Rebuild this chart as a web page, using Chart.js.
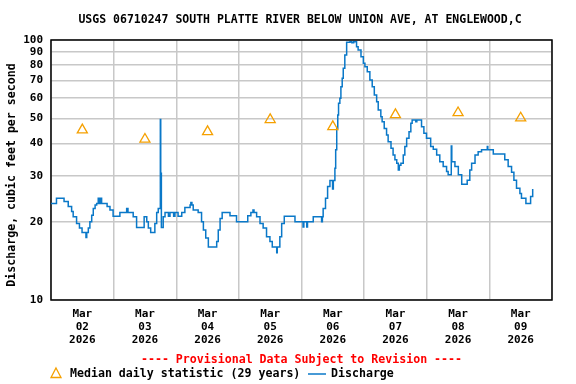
<!DOCTYPE html>
<html>
<head>
<meta charset="utf-8">
<script src="https://cdn.jsdelivr.net/npm/chart.js@4/dist/chart.umd.min.js"></script>
<style>
    html, body { margin: 0; padding: 0; background: #fff; }
    #wrap { width: 576px; height: 384px; position: relative; }
</style>
</head>
<body>
<div id="wrap"><canvas id="flowChart" width="576" height="384"></canvas></div>
<script>
// values (hours since Mar 02 00:00)
const dayLabels = ['02', '03', '04', '05', '06', '07', '08', '09'];
const yTicks = [10, 20, 30, 40, 50, 60, 70, 80, 90, 100];

const hours = [
    0, 2.1, 5.0, 6.6, 7.9, 8.5, 9.8, 10.9, 11.9, 13.4, 13.7, 14.3, 14.9, 15.6, 16.2, 16.9, 17.5,
    18.1, 18.6, 19.0, 19.4, 21.5, 22.6, 23.8, 26.4, 29.0, 29.5, 31.5, 32.8, 35.7, 36.7, 37.3,
    38.2, 39.8, 40.5, 41.1, 41.9, 42.05, 42.15, 42.3, 43.0, 43.7, 45.0, 45.6, 47.0, 47.5,
    48.7, 50.1, 51.3, 53.3, 53.6, 54.0, 54.5, 56.4, 57.7, 58.4, 59.3, 60.3, 63.5, 64.1, 64.8,
    65.6, 68.6, 71.1, 75.4, 76.6, 77.4, 77.8, 78.8, 80.1, 81.3, 82.6, 83.9, 84.8, 86.5, 86.7,
    87.7, 88.4, 89.4, 93.5, 96.6, 96.9, 98.0, 98.3, 100.5, 103.7, 104.0, 104.3, 105.2, 106.0,
    106.9, 107.9, 108.2, 108.8, 109.1, 109.5, 109.9, 110.2, 110.7, 111.1, 111.6, 112.0, 112.6,
    113.3, 114.6, 115.3, 116.0, 117.1, 117.7, 118.8, 119.7, 120.3, 121.2, 122.2, 123.1, 123.9,
    124.8, 125.4, 126.4, 126.9, 127.7, 128.6, 129.2, 130.3, 131.1, 131.8, 132.5, 133.1, 133.5,
    134.1, 135.0, 135.6, 136.3, 137.2, 137.9, 138.4, 139.8, 140.2, 142.0, 142.9, 143.9, 145.5,
    146.5, 147.8, 149.0, 150.3, 151.6, 152.2, 153.4, 153.6, 154.8, 156.1, 157.4, 159.5, 160.5,
    161.2, 162.5, 163.7, 165.0, 167.2, 167.4, 169.5, 173.9, 175.2, 176.5, 177.4, 178.4, 179.7,
    180.3, 182.0, 183.8, 184.6
];
const discharge = [
    23.5, 24.6, 23.9, 22.9, 21.9, 20.9, 19.7, 18.9, 18.2, 17.4, 18.2, 18.9, 20.0, 21.2, 22.5, 23.2, 23.5,
    24.6, 23.5, 24.6, 23.5, 22.9, 22.2, 21.0, 21.7, 22.5, 21.7, 20.9, 19.0, 20.9, 20.0, 18.9,
    18.2, 19.7, 21.7, 22.5, 49.5, 22.5, 30.7, 19.0, 20.9, 21.7, 21.0, 21.7, 21.0, 21.7,
    21.0, 21.7, 22.7, 23.2, 23.7, 23.2, 22.2, 21.7, 20.0, 18.6, 17.3, 16.0, 16.8, 18.6, 20.6,
    21.7, 21.1, 20.0, 21.1, 21.7, 22.2, 21.7, 20.9, 19.7, 18.9, 17.5, 16.8, 16.0, 15.2, 16.0,
    17.5, 19.7, 21.0, 20.0, 19.1, 20.0, 19.1, 20.0, 20.9, 20.0, 20.9, 22.5, 24.6, 27.3,
    28.8, 26.7, 28.8, 32.1, 37.8, 45.7, 51.5, 57.1, 59.7, 66.1, 71.2, 77.8, 87.6,
    98.0, 98.5, 97.5, 98.5, 94.2, 91.5, 86.3, 81.4, 78.9, 75.5, 70.2, 66.1, 61.4,
    57.9, 53.8, 50.7, 48.5, 45.7, 43.1, 40.6, 38.3, 36.1, 34.6, 33.6, 31.6, 33.0,
    33.6, 36.1, 38.9, 41.9, 44.4, 47.8, 49.2, 48.5, 49.2, 46.4, 43.8, 41.9, 38.9,
    38.0, 36.1, 34.0, 32.6, 31.2, 30.3, 39.1, 34.0, 32.6, 30.3, 27.9, 28.9, 31.6,
    33.6, 36.1, 37.2, 37.8, 38.9, 37.8, 36.4, 34.6, 32.6, 31.0, 28.9, 26.9, 25.7,
    24.6, 23.5, 25.0, 26.7
];

const medianHours = [12, 36, 60, 84, 108, 132, 156, 180];
const medianValues = [45.1, 41.5, 44.4, 49.4, 46.4, 51.6, 52.5, 50.1];

const mono = "'DejaVu Sans Mono', monospace";
const blue = '#0a78c8';
const orange = '#f5a000';

Chart.defaults.font.family = mono;
Chart.defaults.font.weight = 'bold';
Chart.defaults.color = '#000';

// frame + title + legend texts, drawn straight on the canvas
const decorations = {
    id: 'decorations',
    beforeDatasetsDraw(chart) {
        const { ctx, chartArea: a } = chart;
        ctx.save();
        ctx.strokeStyle = '#000';
        ctx.lineWidth = 1.5;
        ctx.strokeRect(a.left, a.top, a.right - a.left, a.bottom - a.top);
        ctx.restore();
    },
    afterDraw(chart) {
        const { ctx, chartArea: a } = chart;
        ctx.save();
        ctx.fillStyle = '#000';
        ctx.textBaseline = 'middle';

        ctx.font = `bold 11.5px ${mono}`;
        ctx.textAlign = 'center';
        ctx.fillText('USGS 06710247 SOUTH PLATTE RIVER BELOW UNION AVE, AT ENGLEWOOD,C', 300, 20);

        ctx.save();
        ctx.translate(12, 175);
        ctx.rotate(-Math.PI / 2);
        ctx.font = `bold 11.6px ${mono}`;
        ctx.fillText('Discharge, cubic feet per second', 0, 0);
        ctx.restore();

        ctx.font = `bold 11.6px ${mono}`;
        ctx.fillStyle = '#ff0000';
        ctx.fillText('---- Provisional Data Subject to Revision ----', (a.left + a.right) / 2, 360);

        // legend row
        ctx.strokeStyle = orange;
        ctx.lineWidth = 1.3;
        ctx.beginPath();
        ctx.moveTo(56, 368);
        ctx.lineTo(61, 377.5);
        ctx.lineTo(51, 377.5);
        ctx.closePath();
        ctx.stroke();

        ctx.fillStyle = '#000';
        ctx.textAlign = 'left';
        ctx.fillText('Median daily statistic (29 years)', 70, 374);

        ctx.strokeStyle = blue;
        ctx.lineWidth = 1.5;
        ctx.beginPath();
        ctx.moveTo(308, 374);
        ctx.lineTo(326, 374);
        ctx.stroke();

        ctx.fillText('Discharge', 331, 374);
        ctx.restore();
    }
};

new Chart(document.getElementById('flowChart'), {
    type: 'line',
    data: {
        datasets: [{
            label: 'Median daily statistic (29 years)',
            type: 'scatter',
            data: medianHours.map((h, i) => ({ x: h, y: medianValues[i] })),
            pointStyle: 'triangle',
            pointRadius: 5.8,
            pointBorderColor: orange,
            pointBackgroundColor: 'rgba(0,0,0,0)',
            pointBorderWidth: 1.3,
            showLine: false
        }, {
            label: 'Discharge',
            data: hours.map((h, i) => ({ x: h, y: discharge[i] })),
            borderColor: blue,
            borderWidth: 1.5,
            pointRadius: 0,
            stepped: true,
            fill: false
        }]
    },
    options: {
        responsive: false,
        animation: false,
        devicePixelRatio: 1,
        layout: { padding: { top: 40, right: 24, bottom: 0, left: 0 } },
        plugins: {
            legend: { display: false },
            tooltip: { enabled: false }
        },
        scales: {
            x: {
                type: 'linear',
                min: 0,
                max: 192,
                afterBuildTicks: (scale) => {
                    const t = [];
                    for (let h = 0; h <= 192; h += 12) t.push({ value: h });
                    scale.ticks = t;
                },
                afterFit: (scale) => { scale.height = 84; },
                grid: {
                    color: (c) => (c.tick && c.tick.value % 24 === 0) ? '#c8c8c8' : 'rgba(0,0,0,0)',
                    lineWidth: 1.5,
                    drawTicks: false
                },
                border: { display: false },
                ticks: {
                    autoSkip: false,
                    maxRotation: 0,
                    padding: 8,
                    font: { size: 11, weight: 'bold', lineHeight: 1.18 },
                    callback: (v) => (v % 24 === 12) ? ['Mar', dayLabels[(v - 12) / 24], '2026'] : ''
                }
            },
            y: {
                type: 'logarithmic',
                min: 10,
                max: 100,
                afterBuildTicks: (scale) => { scale.ticks = yTicks.map(v => ({ value: v })); },
                afterFit: (scale) => { scale.width = 51; },
                grid: {
                    color: '#c8c8c8',
                    lineWidth: 1.5,
                    drawTicks: false
                },
                border: { display: false },
                ticks: {
                    padding: 8,
                    font: { size: 11, weight: 'bold' },
                    callback: (v) => String(v)
                }
            }
        }
    },
    plugins: [decorations]
});
</script>
</body>
</html>
